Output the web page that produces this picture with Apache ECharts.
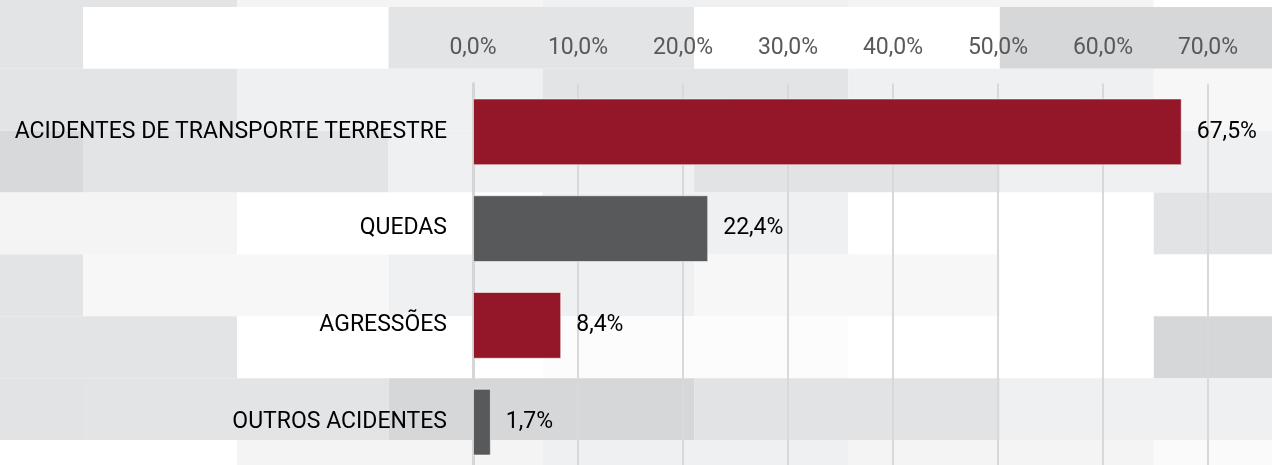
<!DOCTYPE html>
<html>

	<head>
		<meta charset="utf-8">
		<title>Causas externas</title>
		<script src="https://cdn.jsdelivr.net/npm/echarts@6.0.0/dist/echarts.min.js"></script>
		<style>
			html,
			body {
				margin: 0;
				padding: 0;
				background: #fff;
			}

			#chart {
				width: 1272px;
				height: 465px;
			}
		</style>
	</head>

	<body>
		<div id="chart"></div>
		<script>
			// dados
			var categorias = ['ACIDENTES DE TRANSPORTE TERRESTRE', 'QUEDAS', 'AGRESSÕES', 'OUTROS ACIDENTES'];
			var valores = [67.5, 22.4, 8.4, 1.7];
			var ticks = [0, 10, 20, 30, 40, 50, 60, 70];

			var coresBarras = ['#931729', '#58595b'];
			var fonte = 'Roboto';

			// fundo em mosaico (tijolos)
			var linhasFundo = [
				['#e3e4e6', '#f4f4f4', '#eff0f2', '#f4f4f4', '#ffffff'],
				['#e3e4e6', '#ffffff', '#e3e4e6', '#ffffff', '#d6d7d9'],
				['#e3e4e6', '#eff0f2', '#e3e4e6', '#eff0f2', '#f7f7f7'],
				['#d8d9db', '#e3e4e6', '#eff0f2', '#e2e3e5', '#eff0f2'],
				['#f4f4f4', '#ffffff', '#eff0f2', '#ffffff', '#e2e3e5'],
				['#e3e4e6', '#f7f7f7', '#eff0f2', '#f7f7f7', '#ffffff'],
				['#e3e4e6', '#ffffff', '#fcfcfc', '#ffffff', '#d6d7d9'],
				['#e2e3e5', '#e3e4e6', '#d6d7d9', '#e2e3e5', '#eff0f2'],
				['#ffffff', '#f4f4f4', '#eff0f2', '#f4f4f4', '#fafafa']
			];
			var largTijolo = 305.6,
				altTijolo = 61.86;
			var fundo = [];
			linhasFundo.forEach(function(linha, r) {
				var x0 = (r % 2 == 1) ? 83 - largTijolo : 237 - largTijolo;
				var y0 = 7 + (r - 1) * altTijolo;
				linha.forEach(function(cor, c) {
					fundo.push({
						type: 'rect',
						silent: true,
						z: -10,
						shape: {
							x: x0 + c * largTijolo,
							y: y0,
							width: largTijolo,
							height: altTijolo
						},
						style: {
							fill: cor
						}
					});
				});
			});

			function pct(v) {
				return v.toFixed(1).replace('.', ',') + '%';
			}

			var chart = echarts.init(document.getElementById('chart'));
			var option = {
				animation: false,
				textStyle: {
					fontFamily: fonte
				},
				graphic: fundo,
				grid: {
					left: 473,
					right: 64,
					top: 83.5,
					height: 387,
					containLabel: false,
					outerBoundsMode: 'none'
				},
				xAxis: {
					type: 'value',
					position: 'top',
					min: ticks[0],
					max: ticks[ticks.length - 1],
					interval: ticks[1] - ticks[0],
					axisLine: {
						show: false
					},
					axisTick: {
						show: false
					},
					axisLabel: {
						color: '#595959',
						fontSize: 23,
						fontFamily: fonte,
						margin: 24,
						formatter: function(v) {
							return pct(v);
						}
					},
					splitLine: {
						lineStyle: {
							color: '#d9d9d9',
							width: 2
						}
					}
				},
				yAxis: {
					type: 'category',
					inverse: true,
					data: categorias,
					axisLine: {
						show: true,
						lineStyle: {
							color: '#d6d6d6',
							width: 3
						}
					},
					axisTick: {
						show: false
					},
					axisLabel: {
						color: '#000',
						fontSize: 23,
						fontFamily: fonte,
						margin: 26
					}
				},
				series: [{
					type: 'bar',
					data: valores,
					barCategoryGap: '31%',
					itemStyle: {
						color: function(p) {
							return coresBarras[p.dataIndex % 2];
						},
						borderColor: 'rgba(255,255,255,0.55)',
						borderWidth: 1
					},
					label: {
						show: true,
						position: 'right',
						distance: 15,
						color: '#000',
						fontSize: 23,
						fontFamily: fonte,
						formatter: function(p) {
							return pct(p.value);
						}
					}
				}]
			};
			chart.setOption(option);
		</script>
	</body>

</html>
